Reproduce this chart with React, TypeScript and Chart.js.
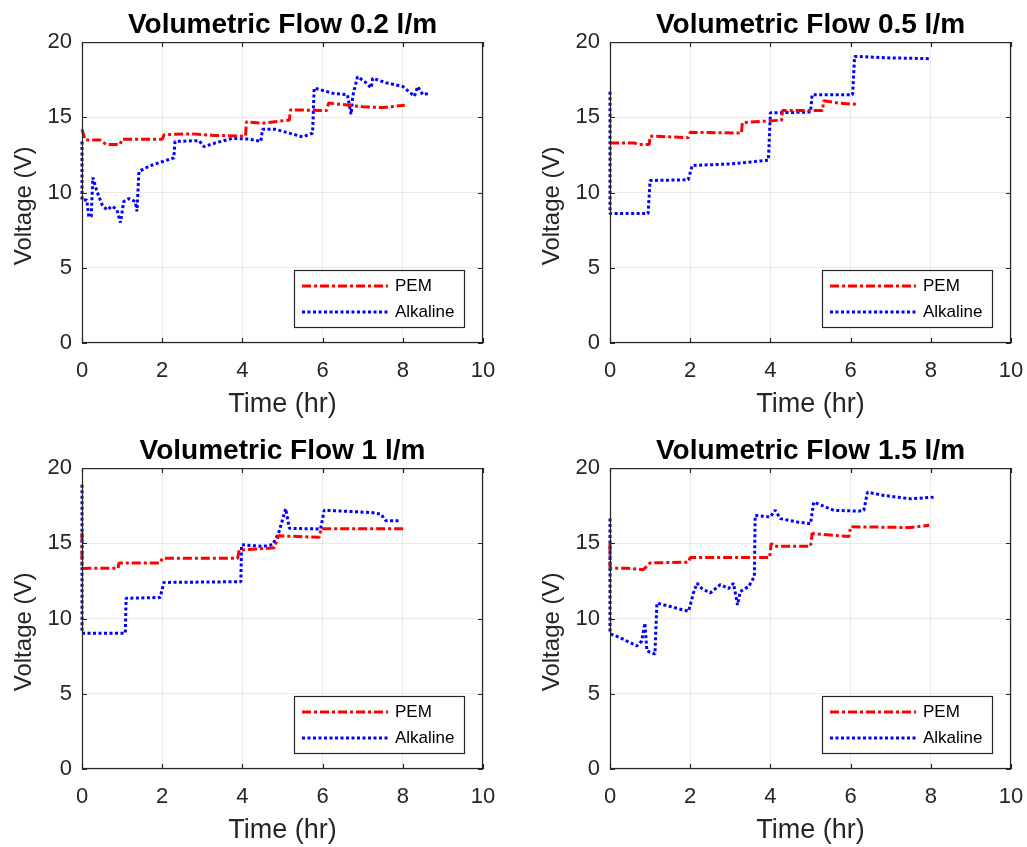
import React, { useEffect, useRef } from "react";
import { Chart, registerables } from "chart.js";

Chart.register(...registerables);

const FONT = "'Liberation Sans', Arial, Helvetica, sans-serif";
const INK = "#262626";

// Axis tick values
const timeTicks = [0, 2, 4, 6, 8, 10];
const voltTicks = [0, 5, 10, 15, 20];

// Panel titles and series names
const flowTitles = [
  "Volumetric Flow 0.2 l/m",
  "Volumetric Flow 0.5 l/m",
  "Volumetric Flow 1 l/m",
  "Volumetric Flow 1.5 l/m",
];
const seriesLabels = ["PEM", "Alkaline"];

// 0.2 l/m
const pem02Time = [0, 0.08, 0.45, 0.6, 0.95, 1.0, 2.0, 2.05, 2.75, 3.3, 4.0, 4.08, 4.1, 4.5, 5.1, 5.17, 5.2, 6.0, 6.1, 6.15, 6.5, 7.0, 7.5, 8.05];
const pem02Volt = [14.2, 13.5, 13.5, 13.2, 13.2, 13.55, 13.55, 13.85, 13.9, 13.8, 13.75, 13.75, 14.7, 14.6, 14.8, 14.8, 15.5, 15.45, 15.45, 15.95, 15.85, 15.7, 15.65, 15.8];
const alk02Time = [0, 0, 0.12, 0.17, 0.23, 0.27, 0.37, 0.5, 0.62, 0.75, 0.87, 0.96, 1.04, 1.17, 1.33, 1.37, 1.42, 1.67, 2.0, 2.29, 2.32, 2.92, 3.04, 3.33, 3.75, 4.17, 4.46, 4.5, 4.83, 5.17, 5.5, 5.75, 5.79, 6.25, 6.62, 6.71, 6.75, 6.87, 7.04, 7.21, 7.25, 7.58, 8.0, 8.29, 8.37, 8.5, 8.67];
const alk02Volt = [13.4, 9.5, 9.5, 8.4, 8.4, 11.0, 10.1, 9.2, 8.85, 9.1, 8.85, 8.0, 9.4, 9.6, 9.4, 8.75, 11.4, 11.75, 12.05, 12.3, 13.4, 13.45, 13.05, 13.3, 13.6, 13.55, 13.4, 14.2, 14.2, 13.95, 13.7, 13.95, 16.95, 16.6, 16.5, 15.2, 16.4, 17.7, 17.4, 16.95, 17.6, 17.3, 17.05, 16.4, 17.05, 16.5, 16.6];

// 0.5 l/m
const pem05Time = [0, 0.6, 0.7, 0.98, 1.0, 1.95, 2.0, 3.28, 3.3, 4.2, 4.28, 4.3, 5.3, 5.33, 5.7, 6.2];
const pem05Volt = [13.3, 13.3, 13.2, 13.2, 13.75, 13.65, 14.0, 13.95, 14.65, 14.8, 14.8, 15.45, 15.45, 16.1, 15.95, 15.85];
const alk05Time = [0, 0, 0.95, 1.0, 1.95, 2.05, 3.0, 3.95, 4.0, 4.1, 5.0, 5.04, 6.05, 6.1, 7.0, 7.96];
const alk05Volt = [16.7, 8.6, 8.6, 10.8, 10.85, 11.8, 11.9, 12.15, 15.3, 15.3, 15.35, 16.5, 16.5, 19.05, 18.95, 18.9];

// 1 l/m
const pem10Time = [0, 0, 0.9, 0.92, 1.95, 2.0, 3.88, 3.92, 4.8, 4.9, 5.92, 5.96, 8.04];
const pem10Volt = [15.7, 13.33, 13.35, 13.7, 13.7, 14.0, 14.0, 14.55, 14.7, 15.5, 15.4, 15.97, 15.97];
const alk10Time = [0, 0, 1.08, 1.1, 1.95, 2.04, 3.96, 3.98, 4.5, 4.75, 4.9, 5.08, 5.17, 5.95, 6.04, 7.2, 7.45, 7.58, 7.9];
const alk10Volt = [18.9, 9.03, 9.03, 11.35, 11.4, 12.4, 12.45, 14.9, 14.8, 14.9, 15.65, 17.3, 16.0, 15.95, 17.2, 17.05, 16.95, 16.5, 16.5];

// 1.5 l/m
const pem15Time = [0, 0, 0.42, 0.83, 1.0, 1.96, 2.0, 3.98, 4.02, 4.1, 5.0, 5.04, 5.96, 6.0, 7.5, 7.96];
const pem15Volt = [15.0, 13.35, 13.35, 13.25, 13.7, 13.75, 14.05, 14.05, 15.0, 14.8, 14.8, 15.65, 15.45, 16.1, 16.05, 16.2];
const alk15Time = [0, 0, 0.04, 0.25, 0.67, 0.79, 0.87, 0.92, 1.12, 1.17, 1.5, 1.96, 2.08, 2.17, 2.29, 2.5, 2.75, 2.96, 3.08, 3.18, 3.25, 3.46, 3.6, 3.62, 4.0, 4.12, 4.25, 4.67, 5.0, 5.08, 5.58, 6.21, 6.33, 6.42, 6.83, 7.5, 8.08];
const alk15Volt = [16.65, 9.05, 8.95, 8.73, 8.18, 8.5, 9.7, 7.85, 7.63, 11.03, 10.8, 10.48, 11.7, 12.35, 12.0, 11.7, 12.25, 12.0, 12.35, 10.9, 11.8, 12.13, 12.8, 16.86, 16.75, 17.2, 16.64, 16.42, 16.3, 17.74, 17.19, 17.14, 17.19, 18.4, 18.18, 17.96, 18.07];

type Series = { time: number[]; volt: number[] };
type PanelSpec = { title: string; pem: Series; alk: Series; left: number; top: number };

const panels: PanelSpec[] = [
  { title: flowTitles[0], pem: { time: pem02Time, volt: pem02Volt }, alk: { time: alk02Time, volt: alk02Volt }, left: 0, top: 0 },
  { title: flowTitles[1], pem: { time: pem05Time, volt: pem05Volt }, alk: { time: alk05Time, volt: alk05Volt }, left: 528, top: 0 },
  { title: flowTitles[2], pem: { time: pem10Time, volt: pem10Volt }, alk: { time: alk10Time, volt: alk10Volt }, left: 0, top: 426 },
  { title: flowTitles[3], pem: { time: pem15Time, volt: pem15Volt }, alk: { time: alk15Time, volt: alk15Volt }, left: 528, top: 426 },
];

const CANVAS_W = 513;
const CANVAS_H = 423;

const toPoints = (s: Series) => s.time.map((t, i) => ({ x: t, y: s.volt[i] }));

// Box around the plot area with inward tick marks on all four sides
const framePlugin = {
  id: "axesFrame",
  afterDatasetsDraw(chart: any) {
    const { ctx, chartArea: a, scales } = chart;
    ctx.save();
    ctx.strokeStyle = INK;
    ctx.lineWidth = 1.2;
    ctx.setLineDash([]);
    ctx.strokeRect(a.left + 0.5, a.top + 0.5, a.right - a.left - 1, a.bottom - a.top - 1);
    const len = 5;
    ctx.beginPath();
    for (const t of scales.x.ticks) {
      const px = Math.round(scales.x.getPixelForValue(t.value)) + 0.5;
      ctx.moveTo(px, a.bottom);
      ctx.lineTo(px, a.bottom - len);
      ctx.moveTo(px, a.top);
      ctx.lineTo(px, a.top + len);
    }
    for (const t of scales.y.ticks) {
      const py = Math.round(scales.y.getPixelForValue(t.value)) + 0.5;
      ctx.moveTo(a.left, py);
      ctx.lineTo(a.left + len, py);
      ctx.moveTo(a.right, py);
      ctx.lineTo(a.right - len, py);
    }
    ctx.stroke();
    ctx.restore();
  },
};

// Boxed legend in the lower right corner of the plot area
const legendBoxPlugin = {
  id: "legendBox",
  afterDraw(chart: any) {
    const { ctx, chartArea: a } = chart;
    const w = 170;
    const h = 57;
    const x0 = a.right - 19 - w;
    const y0 = a.bottom - 16 - h;
    ctx.save();
    ctx.fillStyle = "#ffffff";
    ctx.fillRect(x0, y0, w, h);
    ctx.strokeStyle = INK;
    ctx.lineWidth = 1.2;
    ctx.setLineDash([]);
    ctx.strokeRect(x0 + 0.5, y0 + 0.5, w, h);
    chart.data.datasets.forEach((ds: any, i: number) => {
      const y = y0 + 16 + i * 26;
      ctx.beginPath();
      ctx.setLineDash(ds.borderDash || []);
      ctx.strokeStyle = ds.borderColor;
      ctx.lineWidth = ds.borderWidth;
      ctx.moveTo(x0 + 8, y);
      ctx.lineTo(x0 + 94, y);
      ctx.stroke();
      ctx.setLineDash([]);
      ctx.fillStyle = "#000000";
      ctx.font = `17px ${FONT}`;
      ctx.textBaseline = "middle";
      ctx.textAlign = "left";
      ctx.fillText(ds.label, x0 + 101, y);
    });
    ctx.restore();
  },
};

function FlowPanel({ spec }: { spec: PanelSpec }) {
  const ref = useRef<HTMLCanvasElement | null>(null);

  useEffect(() => {
    if (!ref.current) return;
    const chart = new Chart(ref.current, {
      type: "line",
      data: {
        datasets: [
          {
            label: seriesLabels[0],
            data: toPoints(spec.pem),
            borderColor: "#ff0000",
            borderWidth: 3,
            borderDash: [9, 3, 3, 3],
            borderJoinStyle: "bevel",
            pointRadius: 0,
            fill: false,
            tension: 0,
            clip: 3,
          },
          {
            label: seriesLabels[1],
            data: toPoints(spec.alk),
            borderColor: "#0000ff",
            borderWidth: 3,
            borderDash: [3, 2.5],
            borderJoinStyle: "bevel",
            pointRadius: 0,
            fill: false,
            tension: 0,
            clip: 3,
          },
        ],
      },
      options: {
        animation: false,
        responsive: false,
        devicePixelRatio: 1,
        layout: { padding: { top: 8, right: 30, bottom: 0, left: 0 } },
        plugins: {
          legend: { display: false },
          tooltip: { enabled: false },
          title: {
            display: true,
            text: spec.title,
            fullSize: false,
            color: "#000000",
            font: { family: FONT, size: 28, weight: "bold" },
            padding: { top: 0, bottom: 0.5 },
          },
        },
        scales: {
          x: {
            type: "linear",
            min: 0,
            max: 10,
            afterFit: (s: any) => {
              s.height = 80;
            },
            afterBuildTicks: (s: any) => {
              s.ticks = timeTicks.map((v) => ({ value: v }));
            },
            grid: { color: "rgba(0,0,0,0.08)", lineWidth: 1, drawTicks: false },
            border: { display: false },
            ticks: { color: INK, padding: 15, font: { family: FONT, size: 22 }, maxRotation: 0 },
            title: {
              display: true,
              text: "Time (hr)",
              color: INK,
              font: { family: FONT, size: 27 },
              padding: { top: 0, bottom: 2 },
            },
          },
          y: {
            type: "linear",
            min: 0,
            max: 20,
            afterFit: (s: any) => {
              s.width = 82;
            },
            afterBuildTicks: (s: any) => {
              s.ticks = voltTicks.map((v) => ({ value: v }));
            },
            grid: { color: "rgba(0,0,0,0.08)", lineWidth: 1, drawTicks: false },
            border: { display: false },
            ticks: { color: INK, padding: 10, font: { family: FONT, size: 22 } },
            title: {
              display: true,
              text: "Voltage (V)    ",
              color: INK,
              font: { family: FONT, size: 24 },
              padding: { top: 10, bottom: 0 },
            },
          },
        },
      },
      plugins: [framePlugin, legendBoxPlugin],
    } as any);
    return () => chart.destroy();
  }, [spec]);

  return (
    <canvas
      ref={ref}
      width={CANVAS_W}
      height={CANVAS_H}
      style={{ position: "absolute", left: spec.left, top: spec.top, width: CANVAS_W, height: CANVAS_H }}
    />
  );
}

export default function App() {
  return (
    <div
      style={{
        position: "fixed",
        left: 0,
        top: 0,
        width: 1027,
        height: 847,
        overflow: "hidden",
        background: "#ffffff",
      }}
    >
      {panels.map((p) => (
        <FlowPanel key={p.title} spec={p} />
      ))}
    </div>
  );
}
